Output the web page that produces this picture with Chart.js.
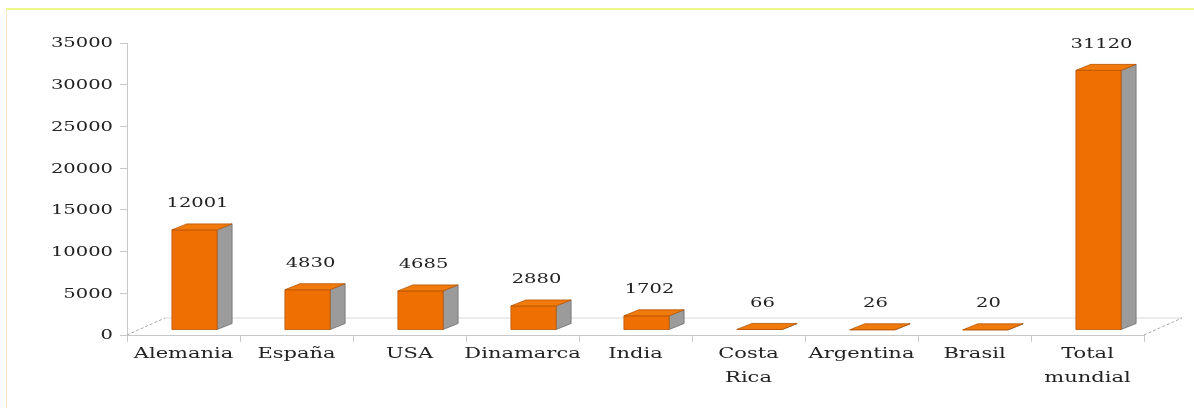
<!DOCTYPE html>
<html>
<head>
<meta charset="utf-8">
<script src="https://cdn.jsdelivr.net/npm/chart.js@4.4.1/dist/chart.umd.min.js"></script>
<style>
  html, body { margin: 0; padding: 0; background: #fff; }
  #wrap { position: relative; width: 1194px; height: 408px; }
  #frame { position: absolute; left: 6px; top: 8px; right: 0; bottom: 0;
           border-top: 2px solid #f0f78a; border-left: 1px solid #fce4c8; pointer-events: none; }
</style>
</head>
<body>
<div id="wrap"><canvas id="chart"></canvas><div id="frame"></div></div>
<script>
const categories = ['Alemania', 'España', 'USA', 'Dinamarca', 'India', ['Costa', 'Rica'], 'Argentina', 'Brasil', ['Total', 'mundial']];
const values = [12001, 4830, 4685, 2880, 1702, 66, 26, 20, 31120];
const yTicks = [0, 5000, 10000, 15000, 20000, 25000, 30000, 35000];

const COLORS = {
  front: '#ef7000',
  top: '#f07a0c',
  edge: '#b85500',
  side: '#9b9b9b',
  sideEdge: '#6e6e6e',
  axis: '#c8c8c8',
  floor: '#d9d9d9',
  text: '#222',
};
const FONT = 'DejaVu Serif';
const STRETCH = 1.5;                // the original text is drawn wide
const DEPTH = { dx: 15, dy: -6 };   // bar depth
const FLOOR = { dx: 38, dy: -17 };  // floor depth
const SHIFT = { x: 11, y: -5 };     // bars sit mid-depth on the floor

function poly(ctx, pts, fill, stroke) {
  ctx.beginPath();
  ctx.moveTo(pts[0][0], pts[0][1]);
  pts.slice(1).forEach(p => ctx.lineTo(p[0], p[1]));
  ctx.closePath();
  ctx.fillStyle = fill;
  ctx.fill();
  ctx.lineWidth = 0.8;
  ctx.strokeStyle = stroke;
  ctx.stroke();
}

function wideText(ctx, s, px, py) {
  ctx.save();
  ctx.translate(px, py);
  ctx.scale(STRETCH, 1);
  ctx.fillText(s, 0, 0);
  ctx.restore();
}

const floor3d = {
  id: 'floor3d',
  beforeDatasetsDraw(chart) {
    const { ctx, chartArea: { left, right, bottom } } = chart;
    ctx.save();
    ctx.strokeStyle = COLORS.floor;
    ctx.lineWidth = 1;
    ctx.beginPath();
    ctx.moveTo(left + FLOOR.dx, bottom + FLOOR.dy);
    ctx.lineTo(right + FLOOR.dx, bottom + FLOOR.dy);
    ctx.stroke();
    ctx.strokeStyle = '#a8a8a8';
    ctx.setLineDash([3, 2]);
    ctx.beginPath();
    ctx.moveTo(left, bottom);
    ctx.lineTo(left + FLOOR.dx, bottom + FLOOR.dy);
    ctx.moveTo(right, bottom);
    ctx.lineTo(right + FLOOR.dx, bottom + FLOOR.dy);
    ctx.stroke();
    ctx.restore();
  },
};

const bars3d = {
  id: 'bars3d',
  afterDatasetsDraw(chart) {
    const ctx = chart.ctx;
    const meta = chart.getDatasetMeta(0);
    ctx.save();
    meta.data.forEach((bar, i) => {
      const { x, y, base, width } = bar.getProps(['x', 'y', 'base', 'width'], true);
      const l = x - width / 2 + SHIFT.x, r = x + width / 2 + SHIFT.x;
      const t = y + SHIFT.y, b = base + SHIFT.y;
      const { dx, dy } = DEPTH;
      poly(ctx, [[r, b], [r + dx, b + dy], [r + dx, t + dy], [r, t]], COLORS.side, COLORS.sideEdge);
      poly(ctx, [[l, b], [r, b], [r, t], [l, t]], COLORS.front, COLORS.edge);
      poly(ctx, [[l, t], [l + dx, t + dy], [r + dx, t + dy], [r, t]], COLORS.top, COLORS.edge);

      ctx.fillStyle = COLORS.text;
      ctx.font = `13px "${FONT}"`;
      ctx.textAlign = 'center';
      ctx.textBaseline = 'middle';
      wideText(ctx, String(values[i]), (l + r) / 2 + 3, t - 26);
    });
    ctx.restore();
  },
};

const axisText = {
  id: 'axisText',
  afterDraw(chart) {
    const { ctx, scales: { x, y } } = chart;
    ctx.save();
    ctx.fillStyle = COLORS.text;
    ctx.textBaseline = 'middle';
    ctx.font = `13px "${FONT}"`;
    ctx.textAlign = 'right';
    yTicks.forEach(v => wideText(ctx, String(v), y.right - 14, y.getPixelForValue(v) + 1));
    ctx.font = `14px "${FONT}"`;
    ctx.textAlign = 'center';
    categories.forEach((c, i) => {
      const lines = Array.isArray(c) ? c : [c];
      lines.forEach((s, k) => wideText(ctx, s, x.getPixelForTick(i), x.top + 19 + k * 24));
    });
    ctx.restore();
  },
};

new Chart(document.getElementById('chart'), {
  type: 'bar',
  data: {
    labels: categories,
    datasets: [{
      data: values,
      backgroundColor: 'rgba(0,0,0,0)',
      borderWidth: 0,
      barPercentage: 0.4,
      categoryPercentage: 1,
    }],
  },
  options: {
    responsive: true,
    maintainAspectRatio: false,
    animation: false,
    layout: { padding: { top: 43, right: 50, left: 0, bottom: 0 } },
    plugins: { legend: { display: false }, tooltip: { enabled: false } },
    scales: {
      x: {
        afterFit(axis) { axis.height = 73; },
        grid: { offset: true, drawOnChartArea: false, drawTicks: true, tickLength: 7, color: COLORS.axis },
        border: { color: COLORS.axis },
        ticks: { display: false, autoSkip: false, maxRotation: 0 },
      },
      y: {
        min: 0,
        max: 35000,
        afterFit(axis) { axis.width = 127; },
        afterBuildTicks(axis) { axis.ticks = yTicks.map(v => ({ value: v })); },
        grid: { drawOnChartArea: false, drawTicks: true, tickLength: 7, color: COLORS.axis },
        border: { color: COLORS.axis },
        ticks: { display: false },
      },
    },
  },
  plugins: [floor3d, bars3d, axisText],
});
</script>
</body>
</html>
